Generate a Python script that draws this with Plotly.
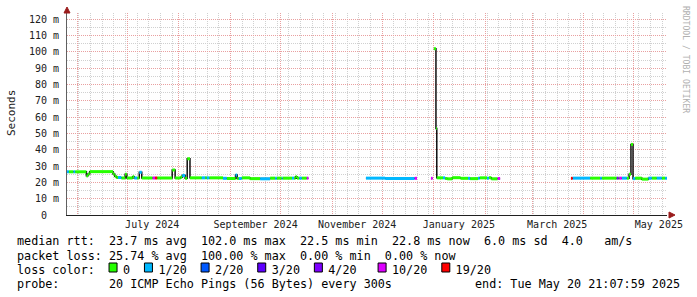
import plotly.graph_objects as go

# ---------------- data (median rtt in ms, loss count out of 20) ----------------
seg_start = [
    "2024-05-25 21:00", "2024-05-27 00:00", "2024-05-29 18:00", "2024-05-30 18:00",
    "2024-06-06 12:00", "2024-06-07 12:00", "2024-06-08 12:00", "2024-06-22 12:00",
    "2024-06-23 12:00", "2024-06-24 12:00", "2024-06-25 12:00", "2024-06-27 12:00",
    "2024-06-29 18:00", "2024-06-30 18:00", "2024-07-04 06:00", "2024-07-05 06:00",
    "2024-07-07 00:00", "2024-07-08 06:00", "2024-07-09 18:00", "2024-07-16 06:00",
    "2024-07-17 18:00", "2024-07-19 00:00", "2024-07-28 00:00", "2024-07-29 18:00",
    "2024-08-02 00:00", "2024-08-03 00:00", "2024-08-04 18:00", "2024-08-06 00:00",
    "2024-08-07 16:00", "2024-08-14 18:00", "2024-08-16 18:00", "2024-08-17 18:00",
    "2024-08-19 06:00", "2024-08-27 12:00", "2024-08-29 18:00", "2024-09-04 00:00",
    "2024-09-05 00:00", "2024-09-06 00:00", "2024-09-07 18:00", "2024-09-12 18:00",
    "2024-09-18 18:00", "2024-09-24 18:00", "2024-09-27 18:00", "2024-09-28 18:00",
    "2024-10-01 18:00", "2024-10-02 06:00", "2024-10-07 21:00", "2024-10-09 03:00",
    "2024-10-10 00:00", "2024-10-10 21:00", "2024-10-12 06:00", "2024-10-13 18:00",
    "2024-10-16 18:00", "2024-10-17 18:00",
    "2024-11-21 06:00", "2024-12-02 18:00", "2024-12-20 12:00", "2024-12-21 21:00",
    "2024-12-30 06:00", "2024-12-31 06:00",
    "2025-01-01 00:00", "2025-01-02 06:00", "2025-01-02 18:00", "2025-01-06 12:00",
    "2025-01-07 18:00", "2025-01-09 00:00", "2025-01-12 00:00", "2025-01-17 00:00",
    "2025-01-21 12:00", "2025-01-22 18:00", "2025-01-27 12:00", "2025-01-28 12:00",
    "2025-02-01 22:00", "2025-02-03 00:00", "2025-02-04 12:00", "2025-02-08 06:00",
    "2025-02-09 18:00",
    "2025-03-24 06:00", "2025-03-25 06:00", "2025-04-04 18:00", "2025-04-10 18:00",
    "2025-04-11 18:00", "2025-04-20 18:00", "2025-04-21 18:00", "2025-04-22 06:00",
    "2025-04-23 18:00", "2025-04-26 18:00", "2025-04-28 03:00", "2025-04-29 06:00",
    "2025-04-30 12:00", "2025-05-01 18:00", "2025-05-05 18:00", "2025-05-09 18:00",
    "2025-05-11 18:00", "2025-05-14 18:00", "2025-05-17 18:00", "2025-05-19 18:00",
    "2025-05-20 21:00",
]
median_ms = [
    26.5, 26.5, 26.5, 26.5,
    24.0, 25.2, 26.6, 25.2,
    23.8, 23.0, 23.0, 22.7,
    25.0, 22.7, 23.5, 22.7,
    22.7, 26.2, 22.7, 22.7,
    22.7, 22.7, 27.6, 22.7,
    23.2, 24.2, 22.5, 34.5,
    22.8, 22.8, 22.8, 22.8,
    22.8, 22.5, 22.4, 24.5,
    22.4, 22.4, 22.8, 22.3,
    22.2, 22.6, 22.6, 22.6,
    22.6, 22.6, 22.6, 22.6,
    23.5, 22.6, 22.6, 22.6,
    22.6, None,
    22.6, 22.4, 22.5, None,
    22.5, None,
    102.0, 53.0, 22.8, 22.8,
    22.4, 22.2, 22.9, 22.5,
    22.5, 22.3, 22.6, 22.8,
    22.6, 22.9, 22.2, 22.4,
    None,
    22.5, 22.6, 22.6, 22.6,
    22.6, 22.6, 22.6, 22.6,
    22.6, 22.6, 25.0, 43.3,
    22.3, 22.6, 22.0, 22.6,
    22.6, 22.6, 22.6, 22.6,
    None,
]
loss_count = [
    1, 0, 1, 0,
    0, 0, 0, 0,
    0, 0, 1, 0,
    0, 0, 0, 1,
    0, 1, 0, 10,
    19, 0, 0, 0,
    0, 1, 0, 0,
    0, 1, 0, 1,
    0, 1, 0, 1,
    0, 1, 0, 0,
    1, 0, 1, 0,
    1, 0, 1, 0,
    0, 0, 1, 0,
    10, None,
    1, 1, 10, None,
    10, None,
    0, 0, 0, 1,
    0, 0, 0, 0,
    1, 0, 1, 0,
    1, 0, 0, 10,
    None,
    19, 1, 0, 1,
    0, 4, 0, 10,
    1, 0, 0, 0,
    1, 0, 0, 1,
    0, 1, 0, 1,
    None,
]

loss_levels = [0, 1, 2, 3, 4, 10, 19]
loss_labels = ["0", "1/20", "2/20", "3/20", "4/20", "10/20", "19/20"]
loss_colors = ["#26ff00", "#00b8ff", "#0059ff", "#5e00ff", "#7e00ff", "#dd00ff", "#ff0000"]

y_tick_vals = [0, 10, 20, 30, 40, 50, 60, 70, 80, 90, 100, 110, 120]
y_tick_text = ["0\u00a0\u00a0"] + [f"{v} m" for v in y_tick_vals[1:]]
y_minor_vals = [5, 15, 25, 35, 45, 55, 65, 75, 85, 95, 105, 115]

x_label_vals = ["2024-07-16", "2024-09-16", "2024-11-16", "2025-01-16", "2025-03-16", "2025-05-16"]
x_label_text = ["July 2024", "September 2024", "November 2024", "January 2025", "March 2025", "May 2025"]

x_range = ["2024-05-25 21:08", "2025-05-20 21:08"]
y_range = [0, 123.9]

legend_line1 = "median rtt:  23.7 ms avg  102.0 ms max  22.5 ms min  22.8 ms now  6.0 ms sd  4.0   am/s"
legend_line2 = "packet loss: 25.74 % avg  100.00 % max  0.00 % min  0.00 % now"
legend_line4 = "probe:       20 ICMP Echo Pings (56 Bytes) every 300s"
legend_end = "end: Tue May 20 21:07:59 2025"
legend_gaps = ["  ", "  ", "  ", "  ", "   ", "  ", ""]

# ---------------- layout geometry (pixels) ----------------
W, H = 697, 297
L, R, T, B = 67, 667, 13, 215
MONO = "DejaVu Sans Mono"


def px(x):
    return (x - L) / (R - L)


def py(y):
    return (B - y) / (B - T)


# ---------------- build traces ----------------
n = len(seg_start)
bx, by = [], []
for i in range(n - 1):
    v = median_ms[i]
    if v is None:
        continue
    if bx and (i == 0 or median_ms[i - 1] is None):
        bx.append(None)
        by.append(None)
    bx += [seg_start[i], seg_start[i + 1]]
    by += [v, v]

fig = go.Figure()
fig.add_trace(go.Scatter(x=bx, y=by, mode="lines", line=dict(color="#101010", width=1.5),
                         hoverinfo="skip", showlegend=False, connectgaps=False))

for lvl, col in zip(loss_levels, loss_colors):
    cx, cy = [], []
    for i in range(n - 1):
        if median_ms[i] is None or loss_count[i] != lvl:
            continue
        cx += [seg_start[i], seg_start[i + 1], None]
        cy += [median_ms[i], median_ms[i], None]
    if cx:
        fig.add_trace(go.Scatter(x=cx, y=cy, mode="lines", line=dict(color=col, width=3),
                                 hoverinfo="skip", showlegend=False, connectgaps=False))

# invisible trace for the grid axis
fig.add_trace(go.Scatter(x=x_range, y=[None, None], xaxis="x2", mode="lines",
                         showlegend=False, hoverinfo="skip"))

MAJ = "#e9a0a0"
MIN = "#d0d0d0"

fig.update_layout(
    width=W, height=H,
    margin=dict(l=L, r=W - R, t=T, b=H - B, pad=0),
    paper_bgcolor="white", plot_bgcolor="white",
    showlegend=False,
    font=dict(family=MONO, size=10, color="#202020"),
    xaxis=dict(
        type="date", range=x_range, tickmode="array", tickvals=x_label_vals,
        ticktext=x_label_text, showgrid=False, zeroline=False,
        showline=True, linecolor="#202020", linewidth=1,
        ticks="", tickfont=dict(family=MONO, size=10, color="#202020"),
    ),
    xaxis2=dict(
        type="date", range=x_range, overlaying="x", anchor="y",
        showticklabels=False, ticks="", zeroline=False, showline=False,
        tick0="2024-06-01", dtick="M1",
        showgrid=True, gridcolor=MAJ, griddash="1px,1px", gridwidth=1,
        minor=dict(tick0="2024-06-02", dtick=7 * 86400000, showgrid=True,
                   gridcolor=MIN, griddash="1px,1px", gridwidth=1),
    ),
    yaxis=dict(
        range=y_range, tickmode="array", tickvals=y_tick_vals, ticktext=y_tick_text,
        showgrid=True, gridcolor=MAJ, griddash="1px,1px", gridwidth=1,
        minor=dict(tickmode="array", tickvals=y_minor_vals, showgrid=True,
                   gridcolor=MIN, griddash="1px,1px", gridwidth=1),
        zeroline=False, showline=True, linecolor="#606060", linewidth=1,
        ticks="outside", ticklen=5, tickcolor="rgba(0,0,0,0)",
        tickfont=dict(family=MONO, size=10, color="#202020"),
    ),
)

ann = []
# y-axis title
ann.append(dict(text="Seconds", x=px(11), y=py(113), xref="paper", yref="paper",
                xanchor="center", yanchor="middle",
                textangle=-90, showarrow=False, font=dict(family=MONO, size=11, color="#202020")))
# vertical watermark
ann.append(dict(text="RRDTOOL / TOBI OETIKER", x=px(686), y=py(59), xref="paper", yref="paper",
                xanchor="center", yanchor="middle",
                textangle=90, showarrow=False, font=dict(family=MONO, size=8.1, color="#b0b0b0")))

CW = 7.08
LEG_X = 16
LFS = 11.76


def nb(s):
    return s.replace(" ", "\u00a0")


# legend line 3 with boxes
line3 = "loss color:  "
box_idx = []
for lab, gap in zip(loss_labels, legend_gaps):
    box_idx.append(len(line3))
    line3 += "  " + lab + gap

for text, yc in [(legend_line1, 241), (legend_line2, 255.5), (line3, 269.5), (legend_line4, 284)]:
    ann.append(dict(text=nb(text), x=px(LEG_X), y=py(yc), xref="paper", yref="paper",
                    xanchor="left", yanchor="middle", showarrow=False, borderpad=0,
                    font=dict(family=MONO, size=LFS, color="#000000")))
ann.append(dict(text=nb(legend_end), x=px(681), y=py(284), xref="paper", yref="paper",
                xanchor="right", yanchor="middle", showarrow=False, borderpad=0,
                font=dict(family=MONO, size=LFS, color="#000000")))

shapes = []
for idx, col in zip(box_idx, loss_colors):
    x0 = LEG_X + idx * CW + 1
    shapes.append(dict(type="rect", xref="paper", yref="paper",
                       x0=px(x0), x1=px(x0 + 8), y0=py(272), y1=py(263),
                       fillcolor=col, line=dict(color="#000000", width=1)))

# axis arrows
ARROW = "#9a1c1c"
shapes.append(dict(type="path", xref="paper", yref="paper",
                   path=f"M {px(L-3)} {py(13)} L {px(L+3)} {py(13)} L {px(L)} {py(7)} Z",
                   fillcolor=ARROW, line=dict(color=ARROW, width=1)))
shapes.append(dict(type="path", xref="paper", yref="paper",
                   path=f"M {px(669)} {py(212)} L {px(669)} {py(218)} L {px(675)} {py(215)} Z",
                   fillcolor=ARROW, line=dict(color=ARROW, width=1)))

fig.update_layout(annotations=ann, shapes=shapes)
fig.write_html("out.html")
